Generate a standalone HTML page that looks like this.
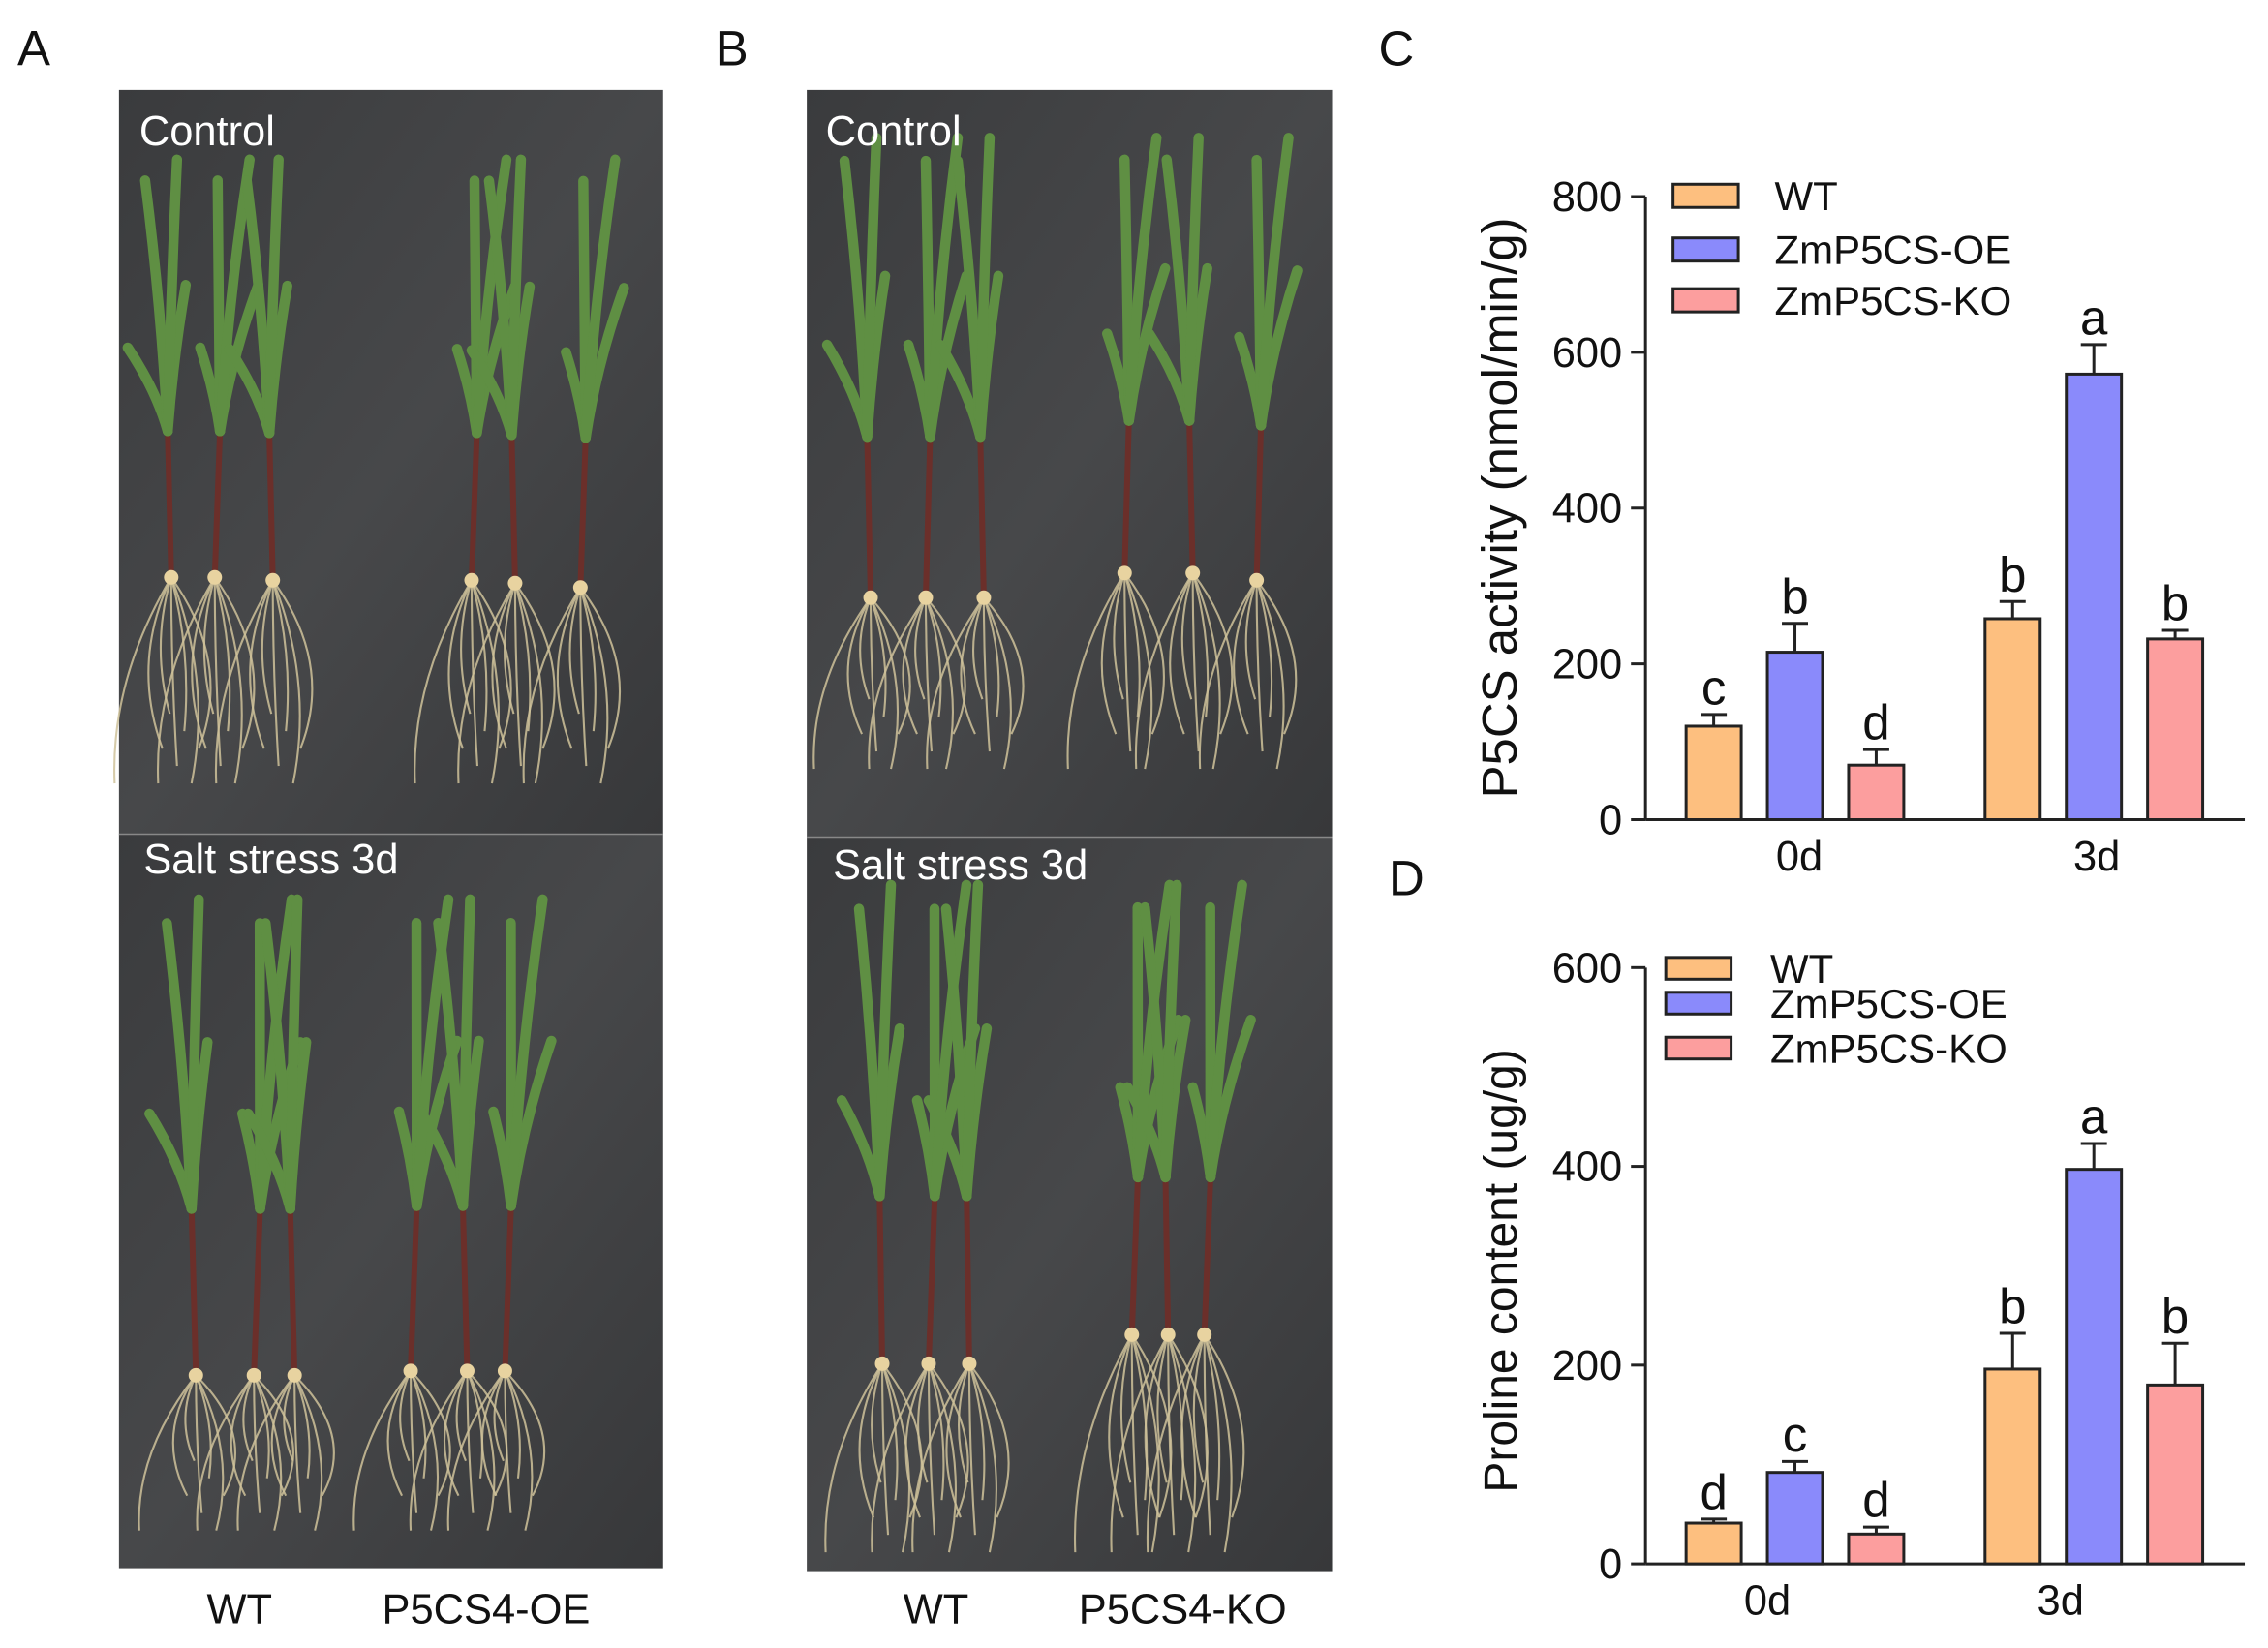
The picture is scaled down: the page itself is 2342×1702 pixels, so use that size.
<!DOCTYPE html>
<html><head><meta charset="utf-8"><style>
html,body{margin:0;padding:0;background:#fff}
svg{display:block}
text{font-family:"Liberation Sans",Arial,sans-serif}
</style></head><body>
<svg id="fig" width="2342" height="1702" viewBox="0 0 1563 1136" preserveAspectRatio="none" xmlns="http://www.w3.org/2000/svg">
<defs>
<linearGradient id="bgA" x1="0" y1="0" x2="1" y2="1"><stop offset="0" stop-color="#3a3b3d"/><stop offset="0.5" stop-color="#47484a"/><stop offset="1" stop-color="#37383a"/></linearGradient>
</defs>
<rect width="1563" height="1136" fill="#fff"/>
<text x="12" y="45" font-size="34" fill="#111">A</text>
<text x="493" y="45" font-size="34" fill="#111">B</text>
<text x="950" y="45" font-size="34" fill="#111">C</text>
<text x="957" y="617" font-size="34" fill="#111">D</text>

<g>
<rect x="82" y="62" width="375" height="513" fill="url(#bgA)"/>
<rect x="82" y="575" width="375" height="506" fill="url(#bgA)"/>
<line x1="82" y1="575" x2="457" y2="575" stroke="#888" stroke-width="1"/>
</g>
<g>
<rect x="556" y="62" width="362" height="515" fill="url(#bgA)"/>
<rect x="556" y="577" width="362" height="506" fill="url(#bgA)"/>
<line x1="556" y1="577" x2="918" y2="577" stroke="#888" stroke-width="1"/>
</g>
<g id="plants"></g>
<g font-size="29" fill="#fff">
<text x="96" y="100">Control</text>
<text x="99" y="602">Salt stress 3d</text>
<text x="569" y="100">Control</text>
<text x="574" y="606">Salt stress 3d</text>
</g>
<g font-size="29" fill="#111" text-anchor="middle">
<text x="165" y="1119">WT</text>
<text x="335" y="1119">P5CS4-OE</text>
<text x="645" y="1119">WT</text>
<text x="815" y="1119">P5CS4-KO</text>
</g>
<g id="chartC"></g>
<g id="chartD"></g>
</svg>
<script>
const categories=["0d","3d"];
const seriesNames=["WT","ZmP5CS-OE","ZmP5CS-KO"];
const colors=["#FDBF7F","#8A8AFB","#FC9E9E"];
const cValues=[[120,258],[215,572],[70,232]];
const cErrors=[[15,22],[37,38],[20,11]];
const cLetters=[["c","b"],["b","a"],["d","b"]];
const cTicks=[0,200,400,600,800];
const dValues=[[41,196],[92,397],[30,180]];
const dErrors=[[4,36],[11,26],[7,42]];
const dLetters=[["d","b"],["c","a"],["d","b"]];
const dTicks=[0,200,400,600];
const NS="http://www.w3.org/2000/svg";
function mk(p,tag,attrs,txt){const e=document.createElementNS(NS,tag);for(const k in attrs)e.setAttribute(k,attrs[k]);if(txt!==undefined)e.textContent=txt;p.appendChild(e);return e;}

function drawChart(g,cfg){
  const y=v=>cfg.y0-(v/cfg.max)*(cfg.y0-cfg.yTop);
  const groupStart=[1162,1368],barW=38,step=56;
  const x=(ci,si)=>groupStart[ci]+si*step;
  const ax=mk(g,'line',{x1:cfg.ax,y1:y(cfg.max),x2:cfg.ax,y2:cfg.y0,stroke:'#222','stroke-width':2});
  
  
  const xa=mk(g,'line',{x1:cfg.ax,y1:cfg.y0,x2:1547,y2:cfg.y0,stroke:'#222','stroke-width':2});
  
  
  cfg.ticks.forEach(t=>{
    mk(g,'line',{x1:cfg.ax-10,y1:y(t),x2:cfg.ax,y2:y(t),stroke:'#222','stroke-width':2});
    const tl=mk(g,'text',{x:cfg.ax-16,y:y(t)+10,'font-size':29,'text-anchor':'end',fill:'#111'},String(t));
    
    
  });
  const tt=mk(g,'text',{x:0,y:0,'font-size':cfg.titleSize,'text-anchor':'middle',fill:'#111',transform:`translate(${cfg.titleX},${cfg.titleY}) rotate(-90)`},cfg.title);
  
  
  categories.forEach((c,ci)=>{
    const cx=x(ci,1)+barW/2;
    mk(g,'line',{x1:cx,y1:cfg.y0,x2:cx,y2:cfg.y0-10,stroke:'#222','stroke-width':2});
    const cl=mk(g,'text',{x:cfg.catX[ci],y:cfg.y0+35,'font-size':29,'text-anchor':'middle',fill:'#111'},c);
    
    
    seriesNames.forEach((s,si)=>{
      const v=cfg.values[si][ci],e=cfg.errors[si][ci],bx=x(ci,si),mx=bx+barW/2;
      const el=mk(g,'line',{x1:mx,y1:y(v),x2:mx,y2:y(v+e),stroke:'#222','stroke-width':2});
      
      
      mk(g,'line',{x1:mx-9,y1:y(v+e),x2:mx+9,y2:y(v+e),stroke:'#222','stroke-width':2});
      const b=mk(g,'rect',{x:bx,y:y(v),width:barW,height:cfg.y0-y(v),fill:colors[si],stroke:'#222','stroke-width':2});
      
      
      const lt=mk(g,'text',{x:mx,y:y(v+e)-7,'font-size':34,'text-anchor':'middle',fill:'#111'},cfg.letters[si][ci]);
      
      
    });
  });
  seriesNames.forEach((s,si)=>{
    const ly=cfg.legY[si];
    const sw=mk(g,'rect',{x:cfg.legX,y:ly,width:cfg.legW,height:cfg.legH,fill:colors[si],stroke:'#222','stroke-width':2});
    
    
    const lt=mk(g,'text',{x:cfg.legTX,y:ly+cfg.legH/2+10,'font-size':28,fill:'#111'},s);
    
    
  });
}
drawChart(document.getElementById('chartC'),{y0:565,yTop:135.5,max:800,ax:1134,ticks:cTicks,values:cValues,errors:cErrors,letters:cLetters,
  title:"P5CS activity (nmol/min/g)",titleSize:34,titleX:1045,titleY:350,catX:[1240,1445],legX:1153,legW:45,legH:16,legY:[127,164,199],legTX:1223});
drawChart(document.getElementById('chartD'),{y0:1078,yTop:667,max:600,ax:1134,ticks:dTicks,values:dValues,errors:dErrors,letters:dLetters,
  title:"Proline content (ug/g)",titleSize:32,titleX:1045,titleY:876,catX:[1218,1420],legX:1148,legW:45,legH:15,legY:[660,684,715],legTX:1220});

// decorative plants in photos
const pg=document.getElementById('plants');
function plant(bx,by,top,rootEnd,lean){
  const g=mk(pg,'g',{});
  
  
  for(let i=0;i<7;i++){
    const ex=bx+(i-3)*9+((i*13)%7-3)*4, ey=rootEnd-((i*17)%5)*12;
    mk(g,'path',{d:`M${bx},${by} Q${bx+(i-3)*14},${(by+ey)/2} ${ex},${ey}`,stroke:'#cfc29a','stroke-width':1.4,fill:'none',opacity:0.85});
  }
  const sy=by-(by-top)*0.35;
  mk(g,'line',{x1:bx,y1:by,x2:bx+lean*0.3,y2:sy,stroke:'#6b2f2a','stroke-width':4});
  mk(g,'circle',{cx:bx,cy:by,r:5,fill:'#e8d3a0'});
  const leaves=[[-22,0.55],[18,0.7],[-10,0.95],[12,1.0]];
  leaves.forEach(([dx,f])=>{
    const ty=by-(by-top)*f;
    mk(g,'path',{d:`M${bx+lean*0.3},${sy} Q${bx+lean*0.5+dx*0.3},${(sy+ty)/2} ${bx+lean+dx},${ty}`,stroke:'#5f8f43','stroke-width':7,fill:'none','stroke-linecap':'round'});
  });
}
[[118,398],[148,398],[188,400],[325,400],[355,402],[400,405]].forEach((p,i)=>plant(p[0],p[1],110,540,(i%2?12:-8)));
[[135,948],[175,948],[203,948],[283,945],[322,945],[348,945]].forEach((p,i)=>plant(p[0],p[1],620,1055,(i%2?14:-10)));
[[600,412],[638,412],[678,412],[775,395],[822,395],[866,400]].forEach((p,i)=>plant(p[0],p[1],95,530,(i%2?10:-8)));
[[608,940],[640,940],[668,940],[780,920],[805,920],[830,920]].forEach((p,i)=>plant(p[0],p[1],610,1070,(i%2?14:-6)));
</script>
</body></html>
